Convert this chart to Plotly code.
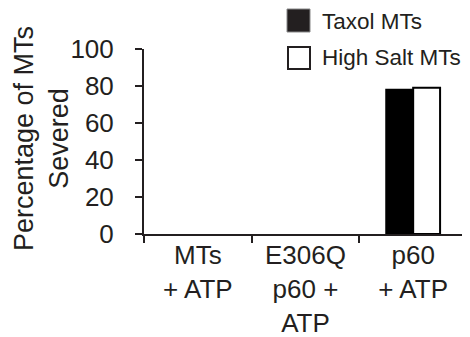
import plotly.graph_objects as go

categories = ["MTs<br>+ ATP", "E306Q<br>p60 +<br>ATP", "p60<br>+ ATP"]
taxol_values = [0, 0, 78]
high_salt_values = [0, 0, 79]
series_names = ["Taxol MTs", "High Salt MTs"]
y_ticks = [0, 20, 40, 60, 80, 100]
y_title = "Percentage of MTs<br>Severed"

INK = "#231f20"
FONT = "Liberation Sans, Arial, Helvetica, sans-serif"

def outline(values):
    return [2 if v > 0 else 0 for v in values]

fig = go.Figure()
fig.add_trace(go.Bar(x=categories, y=taxol_values, name=series_names[0],
                     marker=dict(color="#000000", line=dict(color="#000000", width=outline(taxol_values))),
                     showlegend=False))
fig.add_trace(go.Bar(x=categories, y=high_salt_values, name=series_names[1],
                     marker=dict(color="#ffffff", line=dict(color="#000000", width=outline(high_salt_values))),
                     showlegend=False))

# page offset from default body margin
OFF = 8
FW, FH = 470 - OFF, 337 - OFF
# plot area in page pixels
L, R, T, B = 144, 467, 49, 234
W, H = R - L, B - T
def px(x):
    return (x - L) / W
def py(y):
    return (B - y) / H

shapes = [
    dict(type="rect", xref="paper", yref="paper", x0=px(287), x1=px(310), y0=py(32), y1=py(9),
         fillcolor="#231f20", line=dict(color="#888888", width=1)),
    dict(type="rect", xref="paper", yref="paper", x0=px(288), x1=px(310), y0=py(69), y1=py(47),
         fillcolor="#ffffff", line=dict(color=INK, width=2)),
]
annotations = [
    dict(text=series_names[0], xref="paper", yref="paper", x=px(320), y=py(21),
         xanchor="left", yanchor="middle", showarrow=False, font=dict(size=22.5, color=INK, family=FONT)),
    dict(text=series_names[1], xref="paper", yref="paper", x=px(320), y=py(57),
         xanchor="left", yanchor="middle", showarrow=False, font=dict(size=22.5, color=INK, family=FONT)),
    dict(text=y_title, xref="paper", yref="paper", x=px(41), y=py(139), textangle=-90,
         xanchor="center", yanchor="middle", showarrow=False, font=dict(size=27, color=INK, family=FONT)),
]

fig.update_layout(
    width=FW, height=FH,
    margin=dict(l=L - OFF, r=470 - R, t=T - OFF, b=337 - B, autoexpand=False),
    paper_bgcolor="white", plot_bgcolor="white",
    barmode="group", bargap=0.5, bargroupgap=0,
    font=dict(family=FONT, color=INK, size=26),
    shapes=shapes, annotations=annotations,
    showlegend=False,
)
fig.update_xaxes(
    type="category", range=[-0.5, 2.5], tickson="boundaries", automargin=False,
    showline=True, linecolor=INK, linewidth=2,
    ticks="outside", ticklen=7, tickwidth=2, tickcolor=INK,
    showgrid=False, zeroline=False,
    ticklabelstandoff=-3,
    tickfont=dict(size=26, color=INK, family=FONT),
)
fig.update_yaxes(
    range=[0, 100], tickvals=y_ticks, automargin=False,
    showline=True, linecolor=INK, linewidth=2,
    ticks="outside", ticklen=7, tickwidth=2, tickcolor=INK,
    showgrid=False, zeroline=False,
    ticklabelstandoff=16,
    tickfont=dict(size=26, color=INK, family=FONT),
)

fig.write_html("out.html")
